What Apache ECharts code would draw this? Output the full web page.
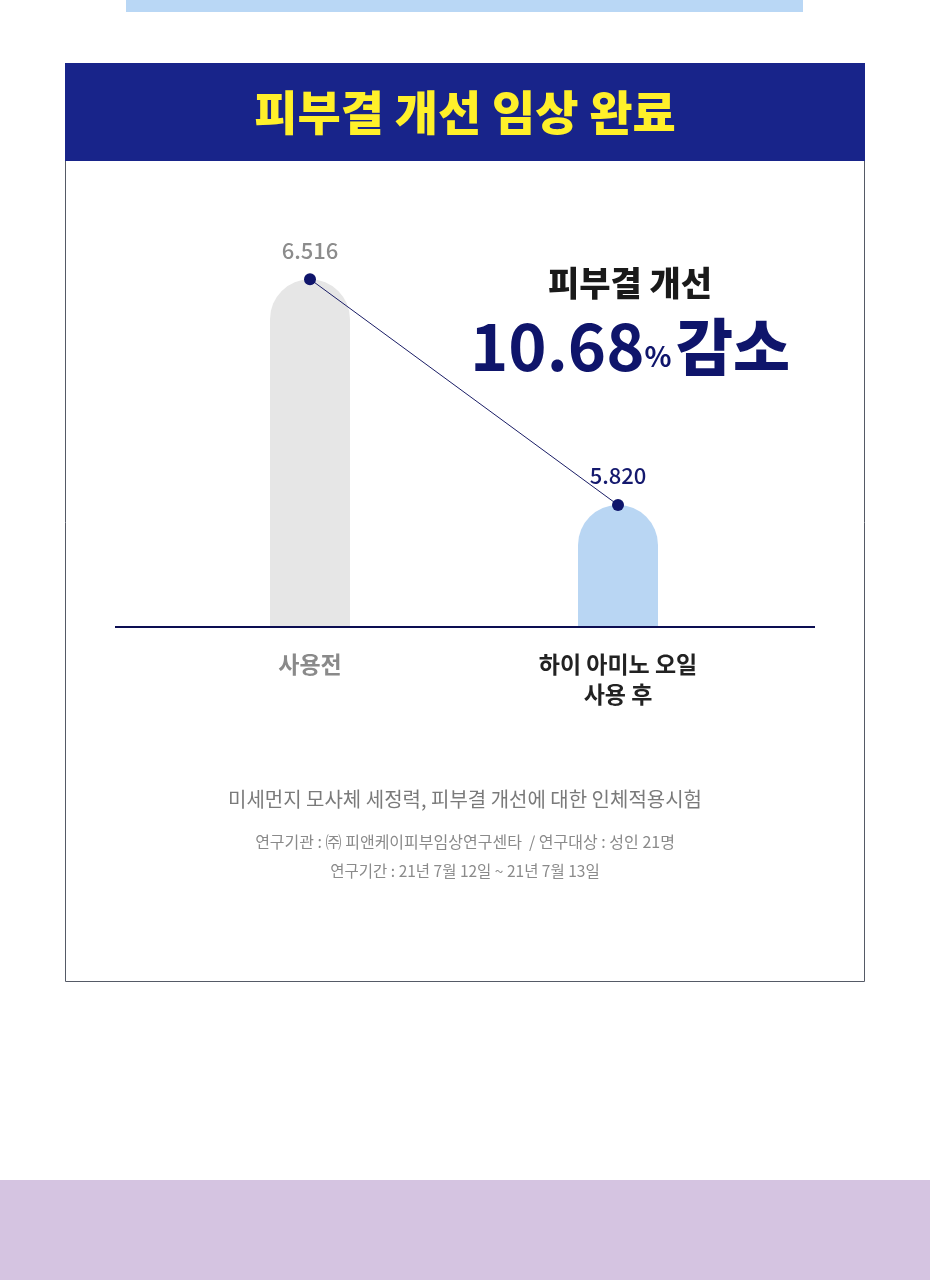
<!DOCTYPE html>
<html><head>
<meta charset="utf-8">
<title>피부결 개선 임상 완료</title>
<script src="https://cdn.jsdelivr.net/npm/echarts@6/dist/echarts.min.js"></script>
<style>
  html, body { margin: 0; padding: 0; background: #fff; }
  #main { width: 930px; height: 1280px; }
</style>
</head>
<body>
<div id="main"></div>
<script>
// 데이터
var categories = ['사용전', '하이 아미노 오일\n사용 후'];
var values = [6.516, 5.820];
var barColors = ['#e6e6e6', '#b9d6f3'];
var labelColors = ['#8c8c8c', '#14196e'];

var FONT = '"Noto Sans CJK KR", "Noto Sans", sans-serif';
var NAVY = '#0f156b';

var myChart = echarts.init(document.getElementById('main'));

var option = {
    backgroundColor: '#ffffff',
    textStyle: { fontFamily: FONT },
    grid: { left: 156, right: 158, top: 200, bottom: 653 },
    xAxis: {
        type: 'category',
        data: categories,
        axisLine: { show: false },
        axisTick: { show: false },
        axisLabel: {
            margin: 22,
            fontFamily: FONT,
            formatter: function (v, i) {
                var st = i === 0 ? 'a' : 'b';
                return v.split('\n').map(function (s) { return '{' + st + '|' + s + '}'; }).join('\n');
            },
            rich: {
                a: { color: '#8a8a8a', fontSize: 23, fontWeight: 'bold', lineHeight: 30, fontFamily: FONT },
                b: { color: '#222222', fontSize: 23, fontWeight: 'bold', lineHeight: 30, fontFamily: FONT }
            }
        }
    },
    yAxis: {
        type: 'value',
        min: 5.444,
        max: 6.76,
        show: false,
        splitLine: { show: false }
    },
    series: [
        {
            type: 'bar',
            barWidth: 80,
            data: values.map(function (v, i) {
                return { value: v, itemStyle: { color: barColors[i], borderRadius: [40, 40, 0, 0] } };
            }),
            silent: true
        },
        {
            type: 'line',
            data: values.map(function (v, i) {
                return {
                    value: v,
                    label: { color: labelColors[i] }
                };
            }),
            symbol: 'circle',
            symbolSize: 12,
            lineStyle: { color: '#1a1d66', width: 1 },
            itemStyle: { color: NAVY },
            label: {
                show: true,
                position: 'top',
                distance: 12,
                fontSize: 22,
                fontWeight: 500,
                fontFamily: FONT,
                formatter: function (p) { return p.value.toFixed(3); }
            },
            z: 5
        }
    ],
    graphic: [
        // 상단 하늘색 띠
        { type: 'rect', shape: { x: 126, y: 0, width: 677, height: 12 }, style: { fill: '#b9d7f5' }, z: -5 },
        // 카드 테두리
        { type: 'rect', shape: { x: 65.5, y: 63.5, width: 799, height: 918 }, style: { fill: '#ffffff', stroke: '#555a66', lineWidth: 1 }, z: -10 },
        // 헤더
        { type: 'rect', shape: { x: 65, y: 63, width: 800, height: 98 }, style: { fill: '#18248a' }, z: -4 },
        { type: 'text', x: 465, y: 112, style: { text: '피부결 개선 임상 완료', fill: '#fff02a', font: '900 47px ' + FONT, textAlign: 'center', textVerticalAlign: 'middle' } },
        // 강조 문구
        { type: 'text', x: 630, y: 283, style: { text: '피부결 개선', fill: '#1a1a1a', font: '900 34px ' + FONT, textAlign: 'center', textVerticalAlign: 'middle' } },
        { type: 'text', x: 630, y: 346, style: {
            text: '{n|10.68}{p|%}{s| }{k|감소}',
            textAlign: 'center', textVerticalAlign: 'middle',
            rich: {
                n: { fontFamily: FONT, fontSize: 65, fontWeight: 'bold', fill: NAVY, color: NAVY, verticalAlign: 'bottom' },
                p: { fontFamily: FONT, fontSize: 28, fontWeight: 'bold', fill: NAVY, color: NAVY, verticalAlign: 'bottom', padding: [0, 0, 8, 0] },
                s: { fontSize: 16 },
                k: { fontFamily: FONT, fontSize: 62, fontWeight: 900, fill: NAVY, color: NAVY, verticalAlign: 'bottom' }
            }
        } },
        // 기준선
        { type: 'line', shape: { x1: 115, y1: 627, x2: 815, y2: 627 }, style: { stroke: '#0c0e52', lineWidth: 2 }, z: 10 },
        // 하단 설명
        { type: 'text', x: 465, y: 799, style: { text: '미세먼지 모사체 세정력, 피부결 개선에 대한 인체적용시험', fill: '#7a7a7a', font: '20px ' + FONT, textAlign: 'center', textVerticalAlign: 'middle' } },
        { type: 'text', x: 465, y: 842, style: { text: '연구기관 : ㈜ 피앤케이피부임상연구센타  / 연구대상 : 성인 21명', fill: '#8a8a8a', font: '16px ' + FONT, textAlign: 'center', textVerticalAlign: 'middle' } },
        { type: 'text', x: 465, y: 871, style: { text: '연구기간 : 21년 7월 12일 ~ 21년 7월 13일', fill: '#8a8a8a', font: '15.5px ' + FONT, textAlign: 'center', textVerticalAlign: 'middle' } },
        // 하단 보라색 띠
        { type: 'rect', shape: { x: 0, y: 1180, width: 930, height: 100 }, style: { fill: '#d5c4e1' }, z: -5 }
    ]
};

myChart.setOption(option);
</script>
</body>
</html>
